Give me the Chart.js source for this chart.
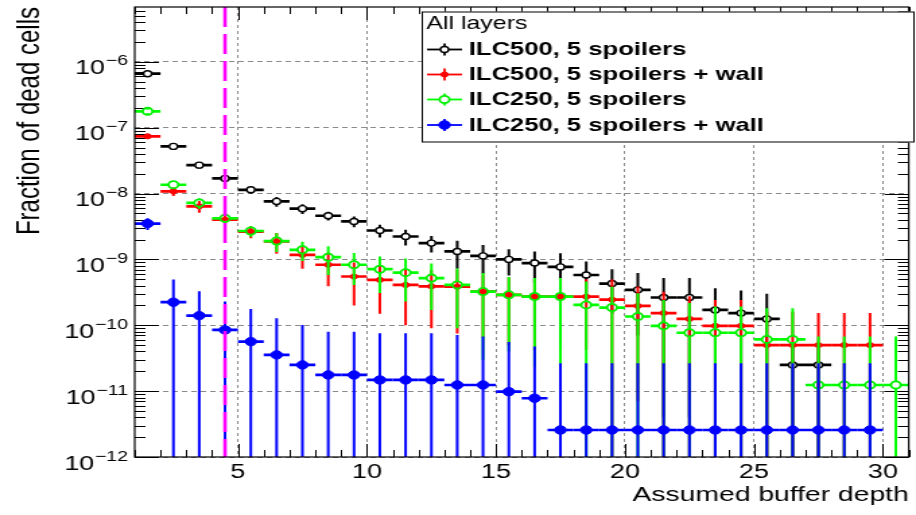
<!DOCTYPE html>
<html>
<head>
<meta charset="utf-8">
<script src="https://cdn.jsdelivr.net/npm/chart.js@4.4.1/dist/chart.umd.min.js"></script>
<style>
html,body{margin:0;padding:0;background:#fff;overflow:hidden}
#c{display:block;width:916px !important;height:515px !important}
</style>
</head>
<body>
<canvas id="c" width="680" height="515" style="width:916px;height:515px"></canvas>
<script>
// ---------------- data ----------------
const binCenters = [1.5,2.5,3.5,4.5,5.5,6.5,7.5,8.5,9.5,10.5,11.5,12.5,13.5,14.5,15.5,16.5,17.5,18.5,19.5,20.5,21.5,22.5,23.5,24.5,25.5,26.5,27.5,28.5,29.5,30.5];
const binHalfWidth = 0.5;

const seriesLabels = ['ILC500, 5 spoilers', 'ILC500, 5 spoilers + wall', 'ILC250, 5 spoilers', 'ILC250, 5 spoilers + wall'];
const legendHeader = 'All layers';
const xAxisTitle = 'Assumed buffer depth';
const yAxisTitle = 'Fraction of dead cells';

const ilc500Values = [6.6e-7,5.2e-8,2.7e-8,1.7e-8,1.14e-8,7.6e-9,5.9e-9,4.6e-9,3.77e-9,2.75e-9,2.23e-9,1.77e-9,1.32e-9,1.13e-9,1.0e-9,8.8e-10,7.7e-10,5.8e-10,4.3e-10,3.45e-10,2.64e-10,2.64e-10,1.71e-10,1.53e-10,1.25e-10,2.5e-11,2.5e-11,null,null,null];
const ilc500Errors = [6e-8,4e-9,3.2e-9,5e-9,1.4e-9,1.3e-9,1.0e-9,7e-10,7e-10,6e-10,6e-10,5e-10,6e-10,5.3e-10,4.3e-10,4.4e-10,4.7e-10,3.5e-10,2.8e-10,2.75e-10,2.6e-10,2.6e-10,1.95e-10,1.84e-10,1.75e-10,2.5e-11,2.5e-11,null,null,null];

const ilc500WallValues = [7.4e-8,1.08e-8,6.4e-9,4.0e-9,2.65e-9,1.87e-9,1.17e-9,8.3e-10,5.5e-10,4.9e-10,4.1e-10,3.9e-10,3.85e-10,3.25e-10,2.9e-10,2.72e-10,2.72e-10,2.72e-10,2.45e-10,1.97e-10,1.53e-10,1.25e-10,9.8e-11,9.8e-11,5.0e-11,5.0e-11,5.0e-11,5.0e-11,5.0e-11,null];
const ilc500WallErrors = [4.5e-9,1.6e-9,1.3e-9,1.1e-9,5.5e-10,6.5e-10,4.5e-10,4.4e-10,3.5e-10,3.4e-10,3.1e-10,3.0e-10,3.1e-10,2.6e-10,2.4e-10,2.3e-10,2.3e-10,2.3e-10,2.5e-10,1.9e-10,1.7e-10,1.5e-10,1.45e-10,1.45e-10,1.1e-10,1.1e-10,1.03e-10,1.03e-10,1.03e-10,null];

const ilc250Values = [1.77e-7,1.36e-8,7.2e-9,4.2e-9,2.7e-9,1.9e-9,1.4e-9,1.08e-9,8.3e-10,7.1e-10,6.3e-10,5.2e-10,4.1e-10,3.25e-10,2.9e-10,2.73e-10,2.73e-10,2.04e-10,1.86e-10,1.36e-10,9.8e-11,7.7e-11,7.7e-11,7.7e-11,6.1e-11,6.1e-11,1.24e-11,1.24e-11,1.24e-11,1.24e-11];
const ilc250Errors = [1e-8,1.5e-9,1.3e-9,1.0e-9,5e-10,6e-10,4.5e-10,5e-10,4.2e-10,4e-10,4e-10,3.5e-10,3.2e-10,2.95e-10,2.5e-10,2.5e-10,2.5e-10,2.6e-10,2.0e-10,1.7e-10,1.45e-10,1.4e-10,1.15e-10,1.15e-10,1.2e-10,1.2e-10,5.5e-11,5.5e-11,5.5e-11,5.5e-11];

const ilc250WallValues = [3.5e-9,2.24e-10,1.4e-10,8.5e-11,5.65e-11,3.55e-11,2.5e-11,1.76e-11,1.76e-11,1.48e-11,1.48e-11,1.48e-11,1.24e-11,1.24e-11,9.8e-12,7.8e-12,2.57e-12,2.57e-12,2.57e-12,2.57e-12,2.57e-12,2.57e-12,2.57e-12,2.57e-12,2.57e-12,2.57e-12,2.57e-12,2.57e-12,2.57e-12,null];
const ilc250WallErrors = [7e-10,2.7e-10,1.9e-10,1.45e-10,1.2e-10,9.2e-11,7.6e-11,6.2e-11,6.2e-11,6.1e-11,6.1e-11,6.1e-11,5.9e-11,5.5e-11,4.6e-11,4.0e-11,2.4e-11,2.4e-11,2.4e-11,2.4e-11,2.4e-11,2.4e-11,2.4e-11,2.4e-11,2.4e-11,2.4e-11,2.4e-11,2.4e-11,2.4e-11,null];

const xTickValues = [5,10,15,20,25,30];
const xTickLabels = ['5','10','15','20','25','30'];
const yTickValues = [1e-12,1e-11,1e-10,1e-9,1e-8,1e-7,1e-6];
const yTickBase = '10';
const yTickExponents = ['\u221212','\u221211','\u221210','\u22129','\u22128','\u22127','\u22126'];
const xMin = 1, xMax = 31, yMin = 1e-12, yMax = 6.8e-6;
const cutDepth = 4.5;

// ---------------- styles ----------------
const FONT = "'Liberation Sans', Arial, Helvetica, sans-serif";
const styles = [
  {color:'#000000', bar:'#000000', radius:3.0, fill:'#ffffff', bw:1.4, gap:3.0},
  {color:'#ff0000', bar:'#ff0000', radius:2.6, fill:'#ff0000', bw:1, gap:0},
  {color:'#00ee00', bar:'#00ff00', radius:3.6, fill:'rgba(0,0,0,0)', bw:1.8, gap:3.6},
  {color:'#0000ff', bar:'#0000ff', radius:4.2, fill:'#0000ff', bw:1, gap:0}
];
const valueSets = [ilc500Values, ilc500WallValues, ilc250Values, ilc250WallValues];
const errorSets = [ilc500Errors, ilc500WallErrors, ilc250Errors, ilc250WallErrors];

const datasets = valueSets.map((vals, k) => ({
  label: seriesLabels[k],
  data: binCenters.map((c, i) => ({x: c, y: vals[i], err: errorSets[k][i]})).filter(p => p.y !== null),
  showLine: false,
  pointStyle: 'circle',
  pointRadius: styles[k].radius,
  pointHoverRadius: styles[k].radius,
  pointBackgroundColor: styles[k].fill,
  pointBorderColor: styles[k].color,
  pointBorderWidth: styles[k].bw,
  order: 4 - k
}));

function seg(ctx, x1, y1, x2, y2){ ctx.beginPath(); ctx.moveTo(x1,y1); ctx.lineTo(x2,y2); ctx.stroke(); }

const errorBarPlugin = {
  id: 'errorBars',
  beforeDatasetDraw(chart, args) {
    const k = args.index;
    const st = styles[k];
    const {ctx, chartArea: ca, scales: {x, y}} = chart;
    ctx.save();
    ctx.beginPath(); ctx.rect(ca.left, ca.top, ca.right - ca.left, ca.bottom - ca.top); ctx.clip();
    ctx.strokeStyle = st.bar;
    chart.data.datasets[k].data.forEach(p => {
      const px = x.getPixelForValue(p.x);
      const py = y.getPixelForValue(p.y);
      const hi = y.getPixelForValue(p.y + p.err);
      const lo = (p.y - p.err) > 0 ? y.getPixelForValue(p.y - p.err) : ca.bottom + 2;
      const xl = x.getPixelForValue(p.x - binHalfWidth);
      const xr = x.getPixelForValue(p.x + binHalfWidth);
      const g = st.gap;
      ctx.lineWidth = 2.0;
      if (g > 0) { seg(ctx, px, hi, px, py - g); seg(ctx, px, py + g, px, lo); }
      else seg(ctx, px, hi, px, lo);
      ctx.lineWidth = 2.7;
      if (g > 0) { seg(ctx, xl, py, px - g, py); seg(ctx, px + g, py, xr, py); }
      else seg(ctx, xl, py, xr, py);
    });
    ctx.restore();
  }
};

const axisPlugin = {
  id: 'rootAxes',
  beforeDatasetsDraw(chart) {
    const {ctx, chartArea: ca, scales: {x, y}} = chart;
    ctx.save();
    ctx.strokeStyle = '#000'; ctx.lineWidth = 1;
    for (let v = xMin; v <= xMax; v++) {
      const px = Math.round(x.getPixelForValue(v)) + 0.5;
      const len = xTickValues.includes(v) ? 13 : 7;
      seg(ctx, px, ca.bottom, px, ca.bottom - len);
      seg(ctx, px, ca.top, px, ca.top + len);
    }
    for (let e = -12; e <= -6; e++) {
      for (let m = 1; m <= 9; m++) {
        const v = m * Math.pow(10, e);
        if (v < yMin || v > yMax) continue;
        const py = Math.round(y.getPixelForValue(v)) + 0.5;
        const len = m === 1 ? 18 : 8;
        seg(ctx, ca.left, py, ca.left + len, py);
        seg(ctx, ca.right, py, ca.right - len, py);
      }
    }
    ctx.restore();
  },
  afterDatasetsDraw(chart) {
    const {ctx, chartArea: ca, scales: {x, y}} = chart;
    ctx.save();
    ctx.strokeStyle = '#ff00ff'; ctx.lineWidth = 2.6; ctx.setLineDash([20, 7]);
    const cx = x.getPixelForValue(cutDepth);
    seg(ctx, cx, ca.top, cx, ca.bottom);
    ctx.setLineDash([]);
    ctx.strokeStyle = '#000'; ctx.lineWidth = 1.2;
    ctx.strokeRect(ca.left, ca.top, ca.right - ca.left, ca.bottom - ca.top);
    // y tick labels: 10 with superscript exponent
    ctx.fillStyle = '#000';
    ctx.textBaseline = 'alphabetic';
    ctx.textAlign = 'right';
    yTickValues.forEach((v, i) => {
      const py = y.getPixelForValue(v);
      const xr = ca.left - 5;
      ctx.font = `14.5px ${FONT}`;
      ctx.fillText(yTickExponents[i], xr, py + 3.5);
      const ew = ctx.measureText(yTickExponents[i]).width;
      ctx.font = `20px ${FONT}`;
      ctx.fillText(yTickBase, xr - ew - 0.5, py + 12.5);
    });
    ctx.restore();
  }
};

const legendPlugin = {
  id: 'rootLegend',
  afterDraw(chart) {
    const ctx = chart.ctx;
    const box = {x0: 313, y0: 11.5, x1: 679, y1: 142.5};
    ctx.save();
    ctx.fillStyle = '#fff';
    ctx.fillRect(box.x0, box.y0, box.x1 - box.x0, box.y1 - box.y0);
    ctx.strokeStyle = '#000'; ctx.lineWidth = 1;
    ctx.strokeRect(box.x0 + 0.5, box.y0 + 0.5, box.x1 - box.x0 - 1, box.y1 - box.y0 - 1);
    ctx.fillStyle = '#000';
    ctx.textBaseline = 'middle'; ctx.textAlign = 'left';
    ctx.font = `18.5px ${FONT}`;
    ctx.fillText(legendHeader, 316.5, 24);
    const rows = [49.5, 74.5, 99.5, 125];
    ctx.font = `bold 19px ${FONT}`;
    seriesLabels.forEach((lab, k) => {
      const st = styles[k];
      const yy = rows[k];
      ctx.strokeStyle = st.bar; ctx.lineWidth = 1.8;
      seg(ctx, 317, yy, 343, yy);
      seg(ctx, 330, yy - 6, 330, yy + 6);
      ctx.beginPath(); ctx.arc(330, yy, st.radius, 0, Math.PI * 2);
      ctx.fillStyle = st.fill === 'rgba(0,0,0,0)' ? '#ffffff' : st.fill; ctx.fill();
      ctx.lineWidth = st.bw; ctx.strokeStyle = st.color; ctx.stroke();
      ctx.fillStyle = '#000';
      ctx.fillText(lab, 348, yy + 0.5);
    });
    ctx.restore();
  }
};

new Chart(document.getElementById('c'), {
  type: 'scatter',
  data: {datasets},
  options: {
    responsive: false,
    animation: false,
    devicePixelRatio: 1,
    events: [],
    layout: {padding: {top: 7, right: 5.2, left: 0, bottom: 0}},
    plugins: {legend: {display: false}, tooltip: {enabled: false}},
    scales: {
      x: {
        type: 'linear', min: xMin, max: xMax,
        afterBuildTicks: s => { s.ticks = xTickValues.map(v => ({value: v})); },
        afterFit: s => { s.height = 58; s.paddingLeft = 0; s.paddingRight = 0; },
        ticks: {callback: (v, i) => xTickLabels[i], font: {family: FONT, size: 20}, color: '#000', padding: 3.5, maxRotation: 0, autoSkip: false},
        grid: {color: '#8a8a8a', lineWidth: 1, drawTicks: false},
        border: {display: false, dash: [3, 3]},
        title: {display: true, text: xAxisTitle, align: 'end', color: '#000', font: {family: FONT, size: 21}, padding: {top: 0, bottom: 7}}
      },
      y: {
        type: 'logarithmic', min: yMin, max: yMax,
        afterBuildTicks: s => { s.ticks = yTickValues.map(v => ({value: v})); },
        afterFit: s => { s.width = 100; s.paddingTop = 0; s.paddingBottom = 0; },
        ticks: {display: false},
        grid: {color: '#8a8a8a', lineWidth: 1, drawTicks: false},
        border: {display: false, dash: [4, 3]},
        title: {display: true, text: yAxisTitle, align: 'end', color: '#000', font: {family: FONT, size: 24}, padding: {top: 8.4, bottom: 0}}
      }
    }
  },
  plugins: [errorBarPlugin, axisPlugin, legendPlugin]
});
</script>
</body>
</html>
